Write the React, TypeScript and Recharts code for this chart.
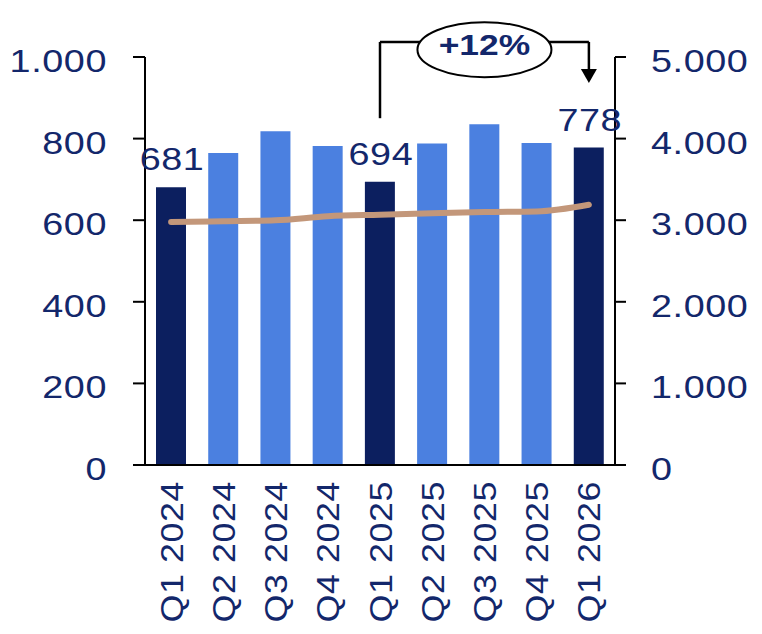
import React from "react";
import {
  ComposedChart,
  Bar,
  Line,
  XAxis,
  YAxis,
  Cell,
  LabelList,
  ReferenceLine,
  ReferenceDot,
} from "recharts";

const categories = [
  "Q1 2024",
  "Q2 2024",
  "Q3 2024",
  "Q4 2024",
  "Q1 2025",
  "Q2 2025",
  "Q3 2025",
  "Q4 2025",
  "Q1 2026",
];
const barValues = [681, 765, 818, 782, 694, 788, 835, 789, 778];
const lineValues = [2978, 2988, 2999, 3048, 3067, 3084, 3100, 3108, 3190];
const leftTicks = [0, 200, 400, 600, 800, 1000];
const rightTicks = [0, 1000, 2000, 3000, 4000, 5000];
const growthLabel = "+12%";

const NAVY = "#0c1f5f";
const LIGHT = "#4b80e0";
const TEXT = "#13276b";
const LINE = "#c3977a";
const FONT = "'Liberation Sans', Arial, sans-serif";

// annotation levels, in left-axis units
const bracketY = 1037;
const bracketLeftEnd = 850;
const arrowBase = 965;
const arrowTip = 936;
const badgeY = 1018;

const data = categories.map((q, i) => ({
  q,
  bar: barValues[i],
  line: lineValues[i],
}));

const fmt = (v: number) => String(v).replace(/\B(?=(\d{3})+(?!\d))/g, ".");

// the source font is wide and round, so stretch the glyphs a little
const WideText = (props: any) => {
  const { x, y, rotate = 0, stretch = 1.18, children, ...rest } = props;
  return (
    <g transform={`translate(${x},${y}) rotate(${rotate}) scale(${stretch},1)`}>
      <text x={0} y={0} fill={TEXT} fontFamily={FONT} {...rest}>
        {children}
      </text>
    </g>
  );
};

const YTick = (props: any) => {
  const { x, y, payload, textAnchor } = props;
  return (
    <WideText x={x} y={y} dy={15} textAnchor={textAnchor} fontSize={32} letterSpacing={0.5}>
      {fmt(payload.value)}
    </WideText>
  );
};

const XTick = (props: any) => {
  const { x, y, payload } = props;
  return (
    <WideText
      x={x}
      y={y + 14}
      rotate={-90}
      stretch={1.12}
      dy="0.36em"
      textAnchor="end"
      fontSize={32}
      letterSpacing={0.5}
    >
      {payload.value}
    </WideText>
  );
};

const renderBarLabel = (props: any) => {
  const { x, y, width, index, value } = props;
  if (!categories[index].startsWith("Q1")) return null;
  return (
    <WideText
      x={Number(x) + Number(width) / 2 + 1}
      y={Number(y) - 17}
      textAnchor="middle"
      fontSize={32}
      letterSpacing={0.5}
    >
      {value}
    </WideText>
  );
};

const GrowthBadge = (props: any) => {
  const { cx, cy } = props;
  return (
    <g>
      <ellipse
        cx={cx}
        cy={cy}
        rx={67}
        ry={27.5}
        fill="#fff"
        stroke="#000"
        strokeWidth={2}
      />
      <WideText
        x={cx}
        y={cy + 5.5}
        textAnchor="middle"
        fontSize={30}
        fontWeight="bold"
      >
        {growthLabel}
      </WideText>
    </g>
  );
};

const ArrowHead = (props: any) => {
  const { cx, cy } = props;
  return <path d={`M${cx - 8},${cy - 14} L${cx + 8},${cy - 14} L${cx},${cy} Z`} fill="#000" />;
};

const App = () => {
  const axisLine = { stroke: "#000", strokeWidth: 2 };
  return (
    <div style={{ position: "absolute", left: 0, top: 0 }}>
      <ComposedChart
        width={762}
        height={634}
        data={data}
        margin={{ top: 57, right: 0, bottom: 0, left: 0 }}
        barCategoryGap={0}
      >
        <XAxis
          dataKey="q"
          interval={0}
          height={169}
          axisLine={axisLine}
          tickLine={false}
          tickSize={0}
          tick={<XTick />}
        />
        <YAxis
          yAxisId="left"
          orientation="left"
          width={145}
          domain={[0, 1000]}
          ticks={leftTicks}
          interval={0}
          allowDataOverflow
          axisLine={axisLine}
          tickLine={axisLine}
          tickSize={12}
          tickMargin={26}
          tick={<YTick />}
        />
        <YAxis
          yAxisId="right"
          orientation="right"
          width={147}
          domain={[0, 5000]}
          ticks={rightTicks}
          interval={0}
          allowDataOverflow
          axisLine={axisLine}
          tickLine={axisLine}
          tickSize={11}
          tickMargin={25}
          tick={<YTick />}
        />
        <Bar yAxisId="left" dataKey="bar" barSize={30} isAnimationActive={false}>
          {data.map((d) => (
            <Cell key={d.q} fill={d.q.startsWith("Q1") ? NAVY : LIGHT} />
          ))}
          <LabelList dataKey="bar" content={renderBarLabel} />
        </Bar>
        <Line
          yAxisId="right"
          dataKey="line"
          type="monotone"
          stroke={LINE}
          strokeWidth={6}
          strokeLinecap="round"
          dot={false}
          activeDot={false}
          isAnimationActive={false}
        />
        <ReferenceLine
          yAxisId="left"
          ifOverflow="visible"
          stroke="#000"
          strokeWidth={2.5}
          segment={[
            { x: "Q1 2025", y: bracketLeftEnd },
            { x: "Q1 2025", y: bracketY },
          ]}
        />
        <ReferenceLine
          yAxisId="left"
          ifOverflow="visible"
          stroke="#000"
          strokeWidth={2.5}
          segment={[
            { x: "Q1 2025", y: bracketY },
            { x: "Q1 2026", y: bracketY },
          ]}
        />
        <ReferenceLine
          yAxisId="left"
          ifOverflow="visible"
          stroke="#000"
          strokeWidth={2.5}
          segment={[
            { x: "Q1 2026", y: bracketY },
            { x: "Q1 2026", y: arrowBase },
          ]}
        />
        <ReferenceDot
          yAxisId="left"
          x="Q1 2026"
          y={arrowTip}
          ifOverflow="visible"
          shape={<ArrowHead />}
        />
        <ReferenceDot
          yAxisId="left"
          x="Q3 2025"
          y={badgeY}
          ifOverflow="visible"
          shape={<GrowthBadge />}
        />
      </ComposedChart>
    </div>
  );
};

export default App;
